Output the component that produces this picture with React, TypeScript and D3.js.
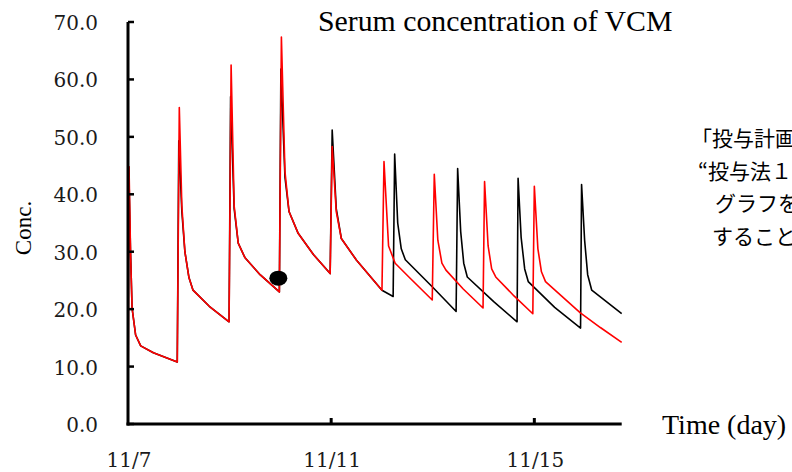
import React from 'react';
import * as d3 from 'd3';

// days since 11/7 00:00, serum concentration
const redSeries: [number, number][] = [
  [0, 0], [0.02, 44.8], [0.05, 30], [0.08, 20.2], [0.15, 15.5], [0.25, 13.6], [0.5, 12.4], [0.97, 10.8],
  [1.01, 55.1], [1.06, 38], [1.12, 30], [1.2, 25.5], [1.28, 23.3], [1.6, 20.5], [1.99, 17.8],
  [2.03, 62.5], [2.09, 38], [2.17, 31.5], [2.3, 29], [2.6, 26], [2.98, 23.0],
  [3.02, 67.4], [3.09, 44], [3.17, 37], [3.35, 33.2], [3.65, 29.5], [3.98, 26.2],
  [4.02, 48.3], [4.1, 37], [4.2, 32.3], [4.5, 28.5], [5.0, 23.3],
  [5.04, 45.7], [5.13, 31], [5.26, 28], [5.53, 25.6], [5.99, 21.6],
  [6.03, 43.5], [6.1, 32], [6.18, 28], [6.26, 26.8], [6.6, 23.5], [6.99, 20.2],
  [7.02, 42.2], [7.09, 31], [7.16, 27], [7.24, 25.6], [7.6, 22.3], [7.97, 19.2],
  [8.0, 41.4], [8.07, 30.5], [8.14, 26.5], [8.22, 24.8], [8.9, 19.4], [9.3, 16.8], [9.72, 14.2],
];

const blackSeries: [number, number][] = [
  [0, 0], [0.015, 44.8], [0.05, 30], [0.08, 20.2], [0.15, 15.5], [0.25, 13.6], [0.5, 12.4], [0.97, 10.8],
  [1.0, 49.3], [1.06, 37], [1.12, 30], [1.2, 25.5], [1.28, 23.3], [1.6, 20.5], [1.99, 17.8],
  [2.02, 57], [2.09, 37.5], [2.17, 31.5], [2.3, 29], [2.6, 26], [2.98, 23.0],
  [3.01, 61.8], [3.09, 43], [3.17, 37], [3.35, 33.2], [3.65, 29.5], [3.98, 26.2],
  [4.02, 51.2], [4.1, 37.5], [4.2, 32.3], [4.5, 28.5], [5.0, 23.3],
  [5.22, 22.2], [5.25, 47.0], [5.31, 35], [5.38, 30.5], [5.46, 28.6], [5.99, 23.9], [6.46, 19.6],
  [6.49, 44.5], [6.55, 33.5], [6.61, 28], [6.68, 25.6], [7.2, 21.3], [7.66, 17.8],
  [7.68, 42.8], [7.74, 32.5], [7.81, 27], [7.88, 24.8], [8.4, 20.3], [8.91, 16.7],
  [8.93, 41.7], [8.99, 32], [9.05, 26], [9.13, 23.3], [9.72, 19.2],
];

const marker: [number, number] = [2.96, 25.4];

const yTicks = [0, 10, 20, 30, 40, 50, 60, 70];
const xTickDays = [0, 4, 8];
const xTickLabels = ['11/7', '11/11', '11/15'];

const noteLines = ['「投与計画」の', '“投与法１”と', 'グラフを比較', 'することが'];
const noteX = [691, 698, 715, 712];

const W = 792;
const H = 472;

export default function App() {
  const x = d3.scaleLinear().domain([0, 9.72]).range([128, 621.7]);
  const y = d3.scaleLinear().domain([0, 70]).range([424, 22]);

  const line = d3.line<[number, number]>()
    .x(d => x(d[0]))
    .y(d => y(d[1]));

  const serif = '"Liberation Serif", "Times New Roman", serif';
  const tickFont = '"DejaVu Serif", serif';

  return (
    <svg width={W} height={H} style={{ position: 'absolute', left: 0, top: 0, background: '#fff' }}>
      <rect width={W} height={H} fill="#fff" />

      {/* title */}
      <text x={318} y={30.5} fontFamily={serif} fontSize={29.8} fill="#000">
        Serum concentration of VCM
      </text>

      {/* curves */}
      <path d={line(blackSeries) || ''} fill="none" stroke="#000" strokeWidth={1.6} strokeLinejoin="round" />
      <path d={line(redSeries) || ''} fill="none" stroke="#ff0000" strokeWidth={1.6} strokeLinejoin="round" />

      <ellipse cx={x(marker[0])} cy={y(marker[1])} rx={9} ry={7.5} fill="#000" />

      {/* y axis */}
      <line x1={128} x2={128} y1={y(70)} y2={y(0) + 1.5} stroke="#000" strokeWidth={3} />
      {yTicks.map(t => (
        <g key={t}>
          <line x1={128} x2={134} y1={y(t)} y2={y(t)} stroke="#000" strokeWidth={2.5} />
          <text x={98} y={y(t) + 8} textAnchor="end" fontFamily={tickFont} fontSize={20} fill="#1a1a1a">
            {t.toFixed(1)}
          </text>
        </g>
      ))}

      {/* x axis */}
      <line x1={126.5} x2={x(9.72)} y1={424} y2={424} stroke="#000" strokeWidth={3} />
      {xTickDays.map((d, i) => (
        <g key={d}>
          {d > 0 && <line x1={x(d)} x2={x(d)} y1={424} y2={418} stroke="#000" strokeWidth={3} />}
          <text x={x(d) + 1} y={467} textAnchor="middle" fontFamily={tickFont} fontSize={20} fill="#1a1a1a">
            {xTickLabels[i]}
          </text>
        </g>
      ))}

      <text x={662} y={434} fontFamily={serif} fontSize={28} fill="#000">Time (day)</text>

      <text transform="translate(31,228) rotate(-90)" textAnchor="middle" fontFamily={serif} fontSize={23} fill="#000">
        Conc.
      </text>

      {/* note on the right, cut off by the page edge */}
      {noteLines.map((s, i) => (
        <text
          key={i}
          x={noteX[i]}
          y={146 + i * 32.5}
          fontFamily={'"Noto Sans CJK JP", sans-serif'}
          fontSize={21}
          fill="#000"
        >
          {s}
        </text>
      ))}
    </svg>
  );
}
